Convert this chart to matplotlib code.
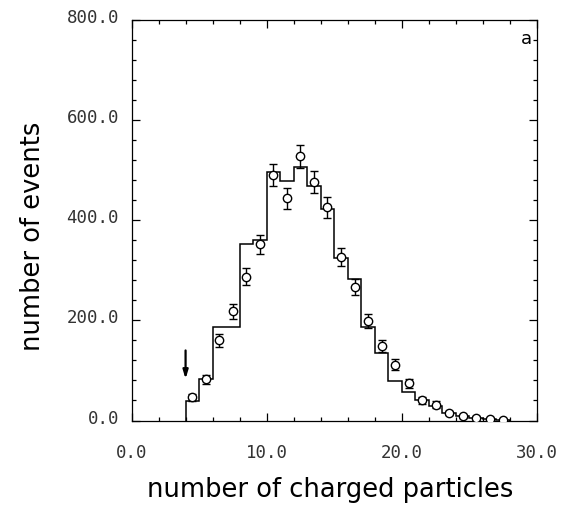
import numpy as np
import matplotlib
matplotlib.use("Agg")
import matplotlib.pyplot as plt
from matplotlib.transforms import ScaledTranslation

# ---- data ----
bin_edges = [4, 5, 6, 7, 8, 9, 10, 11, 12, 13, 14, 15, 16, 17, 18, 19, 20,
             21, 22, 23, 24, 25, 26, 27, 28]
hist_counts = [38, 82, 186, 186, 352, 361, 496, 478, 506, 468, 423, 324, 283,
               186, 134, 78, 56, 40, 30, 16, 10, 6, 3, 2]
point_x = [4.5, 5.5, 6.5, 7.5, 8.5, 9.5, 10.5, 11.5, 12.5, 13.5, 14.5, 15.5,
           16.5, 17.5, 18.5, 19.5, 20.5, 21.5, 22.5, 23.5, 24.5, 25.5, 26.5, 27.5]
point_y = [46, 82, 160, 218, 287, 352, 490, 444, 528, 476, 426, 326,
           267, 198, 148, 111, 74, 40, 32, 15, 9, 6, 4, 2]
point_err = [7, 9, 13, 15, 17, 19, 22, 21, 23, 22, 21, 18,
             16, 14, 12, 11, 9, 6, 6, 4, 3, 2.5, 2, 1.5]
cut_x = 4
cut_arrow_from = 140
cut_arrow_to = 83

x_ticks = [0, 10, 20, 30]
x_tick_labels = ["0.0", "10.0", "20.0", "30.0"]
y_ticks = [0, 200, 400, 600, 800]
y_tick_labels = ["0.0", "200.0", "400.0", "600.0", "800.0"]

# ---- figure ----
fig = plt.figure(figsize=(5.62, 5.10), dpi=100)
ax = fig.add_axes([0.234, 0.1735, 0.7215, 0.785])

ax.stairs(hist_counts, bin_edges, baseline=0, color="black", linewidth=1.1)
ax.errorbar(point_x, point_y, yerr=point_err, fmt="o", mfc="white", mec="black",
            ms=6, mew=1.0, ecolor="black", elinewidth=1.0, capsize=3.2, capthick=1.0,
            zorder=3)

ax.annotate("", xy=(cut_x, cut_arrow_to), xytext=(cut_x, cut_arrow_from),
            arrowprops=dict(arrowstyle="-|>,head_length=0.5,head_width=0.15",
                            color="black", lw=1.6, shrinkA=0, shrinkB=0))

ax.set_xlim(0, 30)
ax.set_ylim(0, 800)
ax.set_xticks(x_ticks)
ax.set_xticklabels(x_tick_labels)
ax.set_yticks(y_ticks)
ax.set_yticklabels(y_tick_labels)
ax.set_xticks(np.arange(0, 31, 2), minor=True)
ax.set_yticks(np.arange(0, 801, 40), minor=True)

ax.tick_params(which="both", direction="in", top=True, right=True,
               width=0.9, colors="black")
ax.tick_params(which="major", length=6)
ax.tick_params(which="minor", length=3.2)
ax.tick_params(axis="x", which="major", pad=16)
ax.tick_params(axis="y", which="major", pad=9)

for lab in ax.get_xticklabels() + ax.get_yticklabels():
    lab.set_fontfamily("DejaVu Sans Mono")
    lab.set_fontsize(12.5)
    lab.set_color("#333333")
off = ScaledTranslation(0, 5 / 100, fig.dpi_scale_trans)
for lab in ax.get_yticklabels():
    lab.set_transform(lab.get_transform() + off)

for sp in ax.spines.values():
    sp.set_linewidth(0.9)

ax.set_ylabel("number of events", fontsize=18.5, family="DejaVu Sans", labelpad=15)
ax.set_xlabel("number of charged particles", fontsize=18.5, family="DejaVu Sans",
              labelpad=11)
ax.yaxis.label.set_y(0.463)
ax.xaxis.label.set_x(0.49)

ax.text(0.973, 0.955, "a", transform=ax.transAxes, ha="center", va="center",
        fontsize=13, family="DejaVu Sans")

fig.savefig("out.png", dpi=100)
